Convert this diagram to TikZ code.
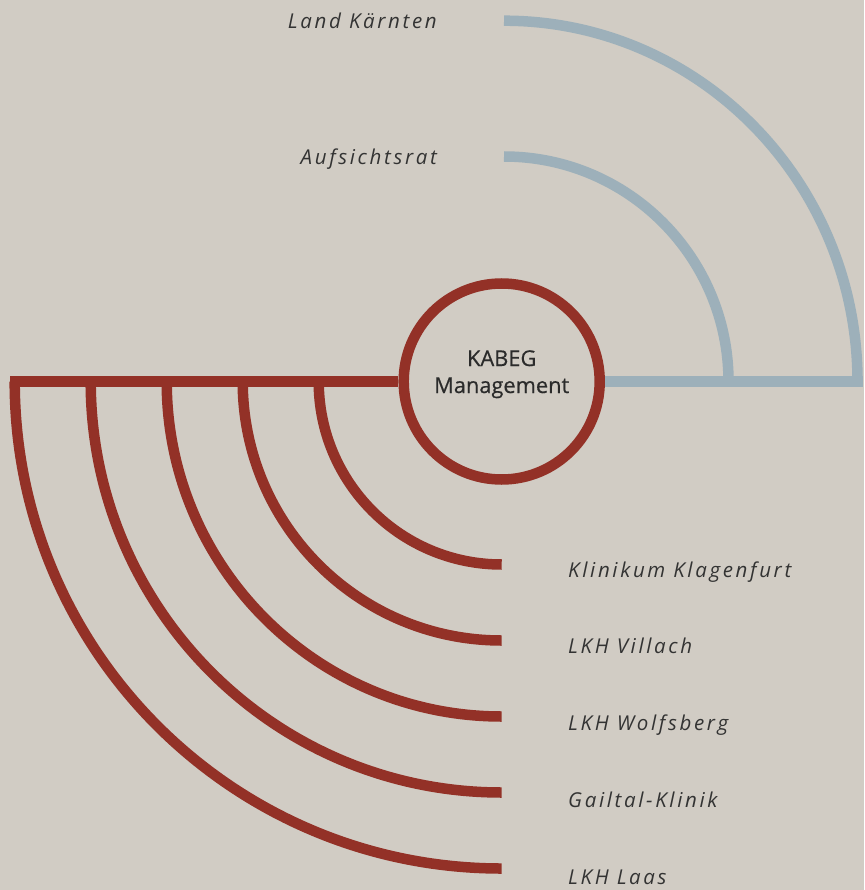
\documentclass[tikz,border=0pt]{standalone}
\usepackage{fontspec}
\setmainfont{Open Sans}
\newfontfamily\lblfont[LetterSpace=13]{Open Sans}
\newfontfamily\ctrfont[FakeBold=0.5]{Open Sans}
\definecolor{bgc}{HTML}{D1CCC4}
\definecolor{redc}{HTML}{933127}
\definecolor{bluec}{HTML}{9DB0BA}
\definecolor{txtc}{HTML}{333333}
\tikzset{
  redline/.style={draw=redc, line width=10.5pt},
  blueline/.style={draw=bluec, line width=10.5pt},
  lbl/.style={font=\lblfont\itshape\fontsize{20.5}{24}\selectfont, text=txtc, inner sep=0pt},
  lblr/.style={lbl, anchor=base east},
  lbll/.style={lbl, anchor=base west},
  ctr/.style={font=\ctrfont\fontsize{21.8}{27}\selectfont, text=txtc!85!black, inner sep=0pt, anchor=base},
}
\begin{document}
\begin{tikzpicture}[x=1pt,y=-1pt]
\useasboundingbox[fill=bgc] (0,0) rectangle (864,890);
% coordinates
\coordinate (redleft) at (10,381.5);
\coordinate (blueright) at (863,381.5);
\coordinate (b1) at (504,20.7);
\coordinate (b2) at (504,156.5);
\coordinate (r1) at (318.7,381.5);
\coordinate (r2) at (242.7,381.5);
\coordinate (r3) at (166.7,381.5);
\coordinate (r4) at (90.7,381.5);
\coordinate (r5) at (14.7,381.5);
% center node
\node[circle, minimum size=196pt, inner sep=0pt, redline] (kabeg) at (501.7,381.5) {};
\node[ctr] (kabeg1) at (501.7,366) {KABEG};
\node[ctr] (kabeg2) at (501.7,393) {Management};
% blue
\draw[blueline] (kabeg.east) -- (blueright);
\draw[blueline] (b1) arc[start angle=-90, end angle=0, x radius=353.5, y radius=360.8];
\draw[blueline] (b2) arc[start angle=-90, end angle=0, x radius=224.5, y radius=225];
% red
\draw[redline] (redleft) -- (kabeg.west);
\draw[redline] (r1) arc[start angle=180, end angle=90, radius=183];
\draw[redline] (r2) arc[start angle=180, end angle=90, radius=259];
\draw[redline] (r3) arc[start angle=180, end angle=90, radius=335];
\draw[redline] (r4) arc[start angle=180, end angle=90, radius=411];
\draw[redline] (r5) arc[start angle=180, end angle=90, radius=487];
% labels
\node[lblr] (land) at (437,29) {Land Kärnten};
\node[lblr] (aufs) at (437,165) {Aufsichtsrat};
\node[lbll] (klag) at (568,577) {Klinikum Klagenfurt};
\node[lbll] (vill) at (568,653.5) {LKH Villach};
\node[lbll] (wolf) at (568,730) {LKH Wolfsberg};
\node[lbll] (gail) at (568,807) {Gailtal-Klinik};
\node[lbll] (laas) at (568,884) {LKH Laas};
\end{tikzpicture}
\end{document}
